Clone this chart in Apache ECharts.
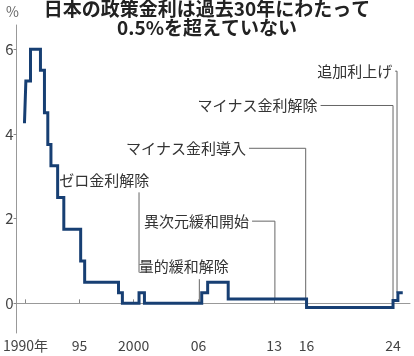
<!DOCTYPE html>
<html><head><meta charset="utf-8">
<script src="https://cdn.jsdelivr.net/npm/echarts@6/dist/echarts.min.js"></script>
<style>html,body{margin:0;padding:0;background:#fff}#c{width:414px;height:356px}</style>
</head><body><div id="c"></div>
<script>
// ---- data ----
const changeYears = [1989.9, 1990.03, 1990.46, 1991.38, 1991.75, 1992.06, 1992.35, 1992.97, 1993.54, 1995.1, 1995.47, 1998.6, 1998.96, 2000.5, 2001.0, 2006.3, 2006.85, 2008.75, 2016.0, 2024.0, 2024.45, 2024.9];
const rateValues  = [4.25, 5.25, 6.0, 5.5, 4.5, 3.75, 3.25, 2.5, 1.75, 1.0, 0.5, 0.25, 0.0, 0.25, 0.0, 0.25, 0.5, 0.1, -0.1, 0.07, 0.25, 0.25];
const xTickYears  = [1990, 1995, 2000, 2006, 2013, 2016, 2024];
const xTickLabels = ['1990年', '95', '2000', '06', '13', '16', '24'];
const yTickValues = [0, 2, 4, 6];
const eventLabels = ['ゼロ金利解除', '量的緩和解除', '異次元緩和開始', 'マイナス金利導入', 'マイナス金利解除', '追加利上げ'];
const eventYears  = [2000.5, 2006.08, 2013.07, 2015.92, 2024.0, 2024.37];
const eventValues = [0.73, 0.0, 0.1, -0.1, 0.07, 0.25];
const titleLines  = ['日本の政策金利は過去30年にわたって', '0.5%を超えていない'];

// ---- annotation layout (data units) ----
const annLayout = [
  {anchor: 'left',  tx: 1993.13, ty: 2.91, lineTop: 2.62},
  {anchor: 'left',  tx: 2000.48, ty: 0.87, lineTop: 0.57},
  {anchor: 'right', tx: 2010.68, ty: 1.94},
  {anchor: 'right', tx: 2010.40, ty: 3.66},
  {anchor: 'right', tx: 2017.02, ty: 4.67},
  {anchor: 'right', tx: 2023.92, ty: 5.48}
];

const FONT = '"Noto Sans CJK JP", "Noto Sans", sans-serif';
const chart = echarts.init(document.getElementById('c'), null, {renderer: 'canvas'});
const seriesData = changeYears.map((y, i) => [y, rateValues[i]]);

chart.setOption({
  animation: false,
  backgroundColor: '#fff',
  grid: {left: 14, right: 4, top: 25, bottom: 23, containLabel: false},
  xAxis: {
    type: 'value', min: 1989.17, max: 2025.57,
    axisLine: {show: true, lineStyle: {color: '#999', width: 1}},
    axisTick: {show: true, inside: true, length: 4, customValues: xTickYears, lineStyle: {color: '#888'}},
    axisLabel: {
      customValues: xTickYears, margin: 6,
      fontFamily: FONT, fontSize: 14, color: '#444',
      formatter: v => { const i = xTickYears.indexOf(v); return i >= 0 ? xTickLabels[i] : ''; }
    },
    splitLine: {show: false}
  },
  yAxis: {
    type: 'value', min: -0.7, max: 6.57,
    axisLine: {show: true, lineStyle: {color: '#999', width: 1}},
    axisTick: {show: true, length: 3, customValues: yTickValues, lineStyle: {color: '#888'}},
    axisLabel: {customValues: yTickValues, margin: 3, fontFamily: FONT, fontSize: 15, color: '#444'},
    splitLine: {show: false}
  },
  series: [
    {
      type: 'line', data: [], z: 1, silent: true,
      markLine: {
        silent: true, symbol: 'none', label: {show: false},
        lineStyle: {color: '#999', width: 1, type: 'solid'},
        data: [{yAxis: 0}]
      }
    },
    {
      type: 'line', data: seriesData, step: 'end', z: 5,
      showSymbol: false, symbol: 'none',
      lineStyle: {color: '#173f73', width: 3, join: 'miter'}
    }
  ]
});

// annotations computed through the grid's coordinate system
const px = (x, y) => chart.convertToPixel({gridIndex: 0}, [x, y]);
const els = [
  {type: 'text', left: 6, top: 5, style: {text: '%', fontFamily: FONT, fontSize: 14, fill: '#666'}},
  {type: 'text', x: 207, y: -1, z: 20,
   style: {text: titleLines.join('\n'), fontFamily: FONT, fontSize: 19, fontWeight: 'bold',
           fill: '#222', lineHeight: 19, align: 'center', verticalAlign: 'top'}}
];
annLayout.forEach((a, i) => {
  const tp = px(a.tx, a.ty);
  els.push({
    type: 'text', x: tp[0], y: tp[1], z: 10,
    style: {text: eventLabels[i], fontFamily: FONT, fontSize: 15, fill: '#333',
            align: a.anchor, verticalAlign: 'middle'}
  });
  const ev = px(eventYears[i], eventValues[i]);
  let pts;
  if (a.anchor === 'left') {
    const top = px(eventYears[i], a.lineTop);
    pts = [[top[0], top[1]], [ev[0], ev[1]]];
  } else {
    pts = [[tp[0] + 3, tp[1]], [ev[0], tp[1]], [ev[0], ev[1]]];
  }
  els.push({type: 'polyline', z: 3, shape: {points: pts}, style: {stroke: '#666', lineWidth: 1, fill: null}});
});
chart.setOption({graphic: els});
</script>
</body></html>
